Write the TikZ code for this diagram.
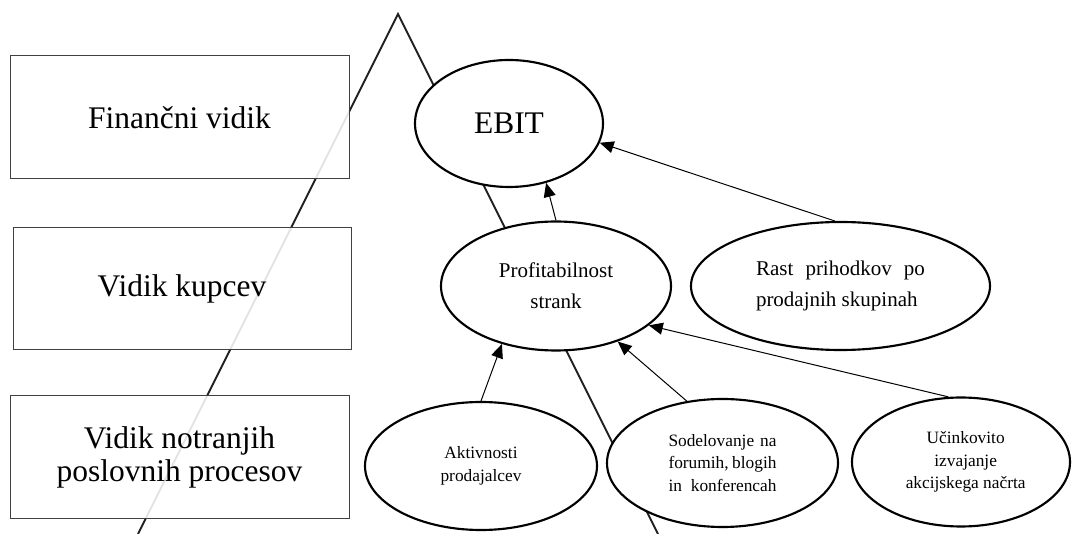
\documentclass[tikz,border=0pt]{standalone}
\usepackage{fontspec}
\setmainfont{Liberation Serif}
\usetikzlibrary{arrows.meta,shapes.geometric}
\begin{document}
\begin{tikzpicture}[x=0.75pt,y=-0.75pt,
  box/.style={draw=black!75, line width=0.75pt, fill=white, fill opacity=0.88, text opacity=1,
    minimum width=254.25pt, minimum height=92.25pt, inner sep=0pt, align=center,
    font=\fontsize{23.6}{24.75}\selectfont},
  oval/.style={ellipse, draw=black, line width=1.6pt, fill=white, inner sep=0pt, align=center},
  big/.style={font=\fontsize{23.6}{24.75}\selectfont},
  mid/.style={font=\fontsize{15.75}{23.25}\selectfont},
  small/.style={font=\fontsize{13}{17}\selectfont},
  tri/.style={draw=black!88, line width=1.5pt, line join=miter},
  arr/.style={draw=black, line width=0.75pt, -{Triangle[length=10.5pt,width=9pt]}}
]
\useasboundingbox (0,0) rectangle (1072,534);
% pyramid lines
\coordinate (apex) at (398,14);
\coordinate (lft) at (138,534);
\coordinate (rgt) at (658,534);
\draw[tri] (lft) -- (apex) -- (rgt);
% perspective boxes
\node[box] (fin) at (179.5,117.5) {Finančni vidik};
\node[box, minimum width=253.5pt, minimum height=91.5pt] (kup) at (182,289) {Vidik kupcev};
\node[box] (pro) at (179.5,457.5) {Vidik notranjih\\poslovnih procesov};
% ellipses
\node[oval, big, minimum width=141pt, minimum height=95.25pt] (ebit) at (509,123.5) {EBIT};
\node[oval, mid, minimum width=172.5pt, minimum height=96.75pt] (prof) at (556,286) {Profitabilnost\\strank};
\node[oval, mid, minimum width=224.25pt, minimum height=96pt, align=left] (rast) at (840.5,286)
  {\makebox[126.75pt][s]{Rast prihodkov po}\\prodajnih skupinah};
\node[oval, small, minimum width=174pt, minimum height=96pt] (akt) at (481,466) {Aktivnosti\\prodajalcev};
\node[oval, small, minimum width=173.25pt, minimum height=96pt, align=left] (sod) at (722.5,463)
  {\makebox[81pt][s]{Sodelovanje na}\\\makebox[81pt][s]{forumih, blogih}\\\makebox[81pt][s]{in konferencah}};
\node[oval, small, minimum width=163.5pt, minimum height=96.75pt] (uci) at (961,462)
  {\hspace*{7pt}Učinkovito\\\hspace*{7pt}izvajanje\\\hspace*{7pt}akcijskega načrta};
% arrows
\draw[arr] (prof.north) -- (ebit.-58);
\draw[arr] (rast.95) -- (ebit.-12);
\draw[arr] (akt.north) -- (prof.-133);
\draw[arr] (sod.120) -- (prof.-42);
\draw[arr] (uci.101) -- (prof.-23);
\end{tikzpicture}
\end{document}
